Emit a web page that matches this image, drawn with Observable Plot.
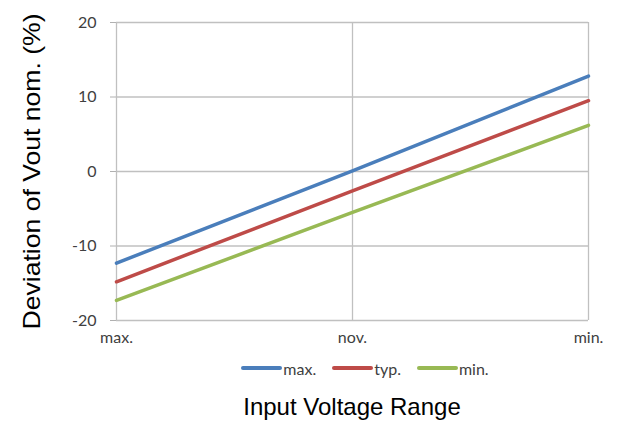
<!DOCTYPE html>
<html>
<head>
<meta charset="utf-8">
<script src="https://cdn.jsdelivr.net/npm/d3@7"></script>
<script src="https://cdn.jsdelivr.net/npm/@observablehq/plot@0.6"></script>
<style>
  body { margin: 0; background: #fff; }
  #legend { display: flex; justify-content: center; align-items: center; height: 36px; font-family: Lato, sans-serif; font-size: 16px; color: #404040; margin-left: 112px; }
  .item { display: flex; align-items: center; margin: 0 8px; }
  .sw { width: 41px; height: 4px; border-radius: 2px; margin-right: 1px; }
  #xtitle { text-align: center; font-family: "Liberation Sans", Arial, sans-serif; font-size: 24px; color: #000; margin-top: 7px; margin-left: 86px; }
</style>
</head>
<body>
<div id="chart"></div>
<script>
const categories = ["max.", "nov.", "min."];
const seriesNames = ["max.", "typ.", "min."];
const maxValues = [-12.3, 0.1, 12.8];
const typValues = [-14.8, -2.6, 9.5];
const minValues = [-17.3, -5.5, 6.2];
const yTicks = [-20, -10, 0, 10, 20];
const colors = ["#4a7ebb", "#be4b48", "#98b954"];
const yTitle = "Deviation of Vout nom. (%)";
const xTitle = "Input Voltage Range";

const seriesValues = [maxValues, typValues, minValues];
const data = seriesNames.flatMap((s, i) =>
  categories.map((c, j) => ({ series: s, cat: c, value: seriesValues[i][j] })));

const plot = Plot.plot({
  width: 618,
  height: 350,
  marginLeft: 116,
  marginRight: 30,
  marginTop: 22,
  marginBottom: 30,
  style: { fontFamily: "Lato, sans-serif", background: "#fff" },
  x: { type: "point", domain: categories, padding: 0 },
  y: { domain: [-20, 20] },
  color: { domain: seriesNames, range: colors },
  marks: [
    Plot.gridY(yTicks, { stroke: "#c0c0c0", strokeOpacity: 1, strokeWidth: 1.3 }),
    Plot.gridX(categories, { stroke: "#c0c0c0", strokeOpacity: 1, strokeWidth: 1.3 }),
    Plot.axisY(yTicks, { tickSize: 6, tickPadding: 14, fontSize: 16, label: null, stroke: "#b0b0b0", fill: "#404040", tickFormat: d => String(d) }),
    Plot.axisX({ tickSize: 0, tickPadding: 11, fontSize: 16, label: null, fill: "#404040" }),
    Plot.line(data, { x: "cat", y: "value", z: "series", stroke: "series", strokeWidth: 3.5 }),
    Plot.text([yTitle], { frameAnchor: "left", rotate: -90, dx: -84, textAnchor: "middle", fontSize: 24, fontFamily: "Liberation Sans, Arial, sans-serif", fill: "#000", className: "ytitle" })
  ]
});
document.getElementById("chart").appendChild(plot);
d3.select(plot).selectAll(".ytitle text")
  .attr("textLength", 316)
  .attr("lengthAdjust", "spacingAndGlyphs");

const legend = document.createElement("div");
legend.id = "legend";
seriesNames.forEach((s, i) => {
  const item = document.createElement("div");
  item.className = "item";
  const sw = document.createElement("div");
  sw.className = "sw";
  sw.style.background = colors[i];
  const t = document.createElement("span");
  t.textContent = s;
  item.appendChild(sw);
  item.appendChild(t);
  legend.appendChild(item);
});
document.body.appendChild(legend);

const xt = document.createElement("div");
xt.id = "xtitle";
xt.textContent = xTitle;
document.body.appendChild(xt);
</script>
</body>
</html>
